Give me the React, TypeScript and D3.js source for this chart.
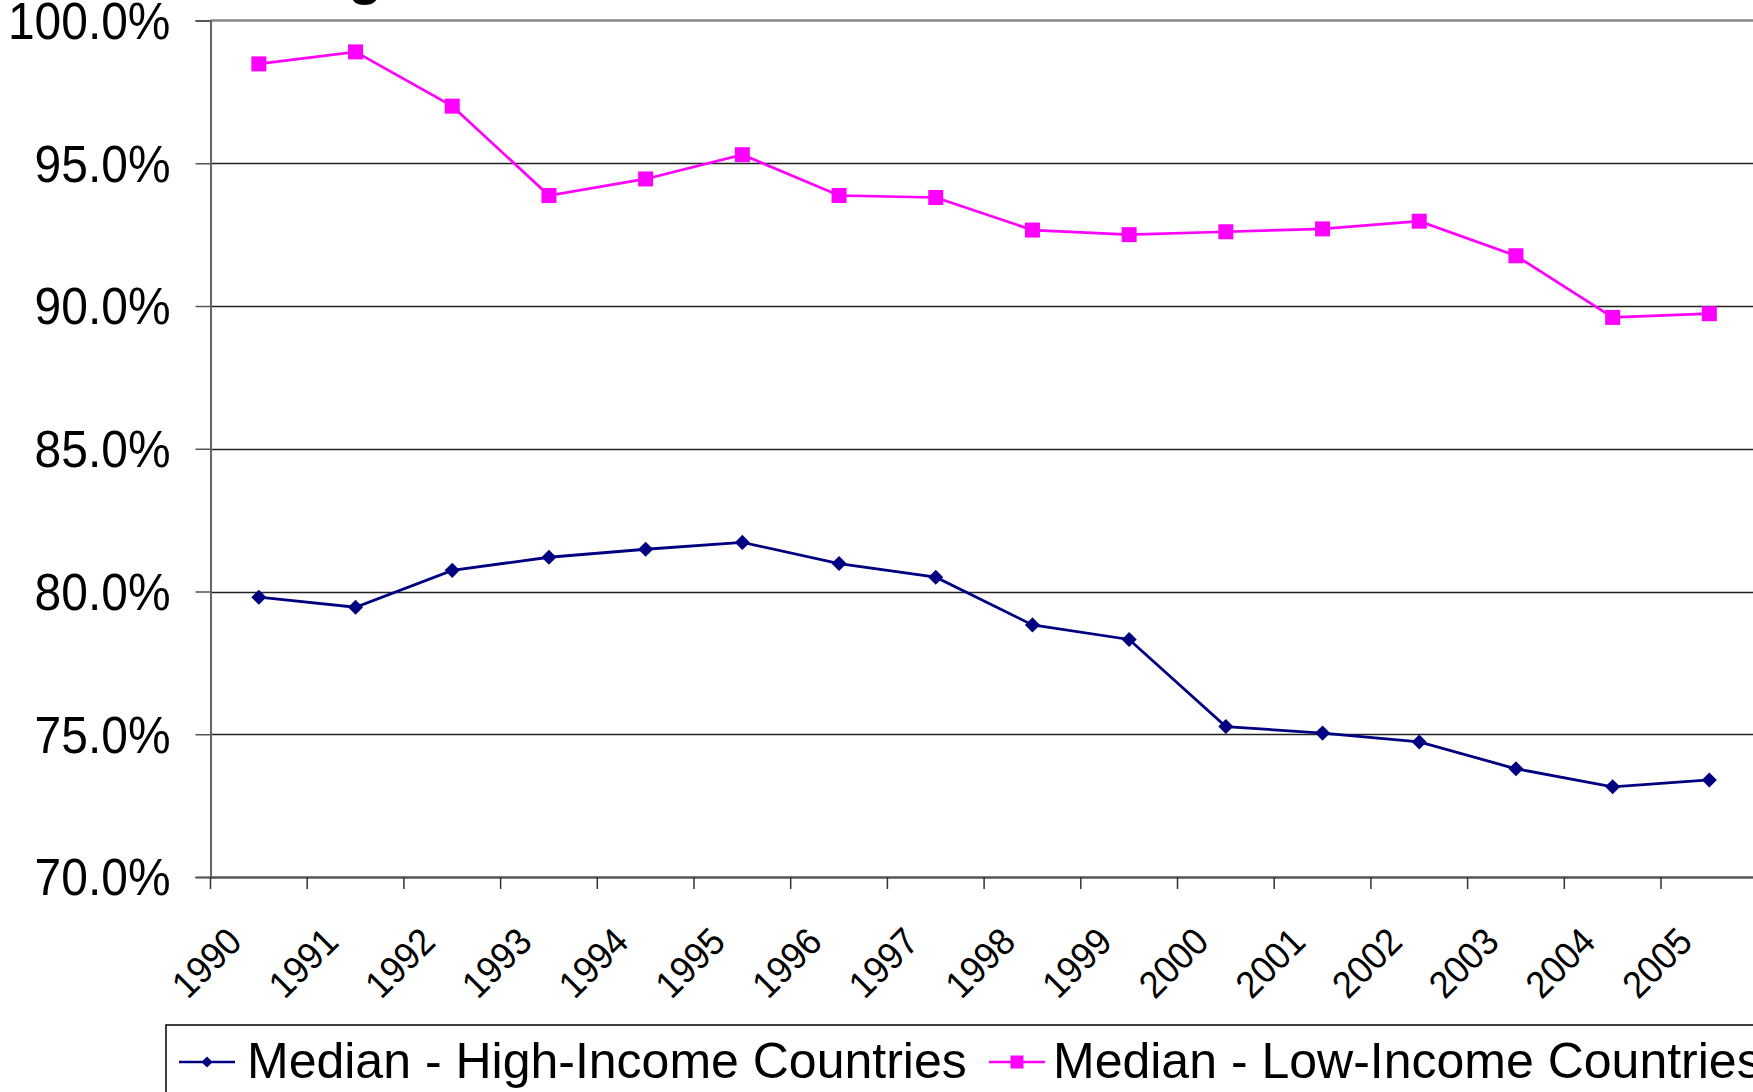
import { useEffect, useRef } from "react";
import * as d3 from "d3";

const years = [
  "1990", "1991", "1992", "1993", "1994", "1995", "1996", "1997",
  "1998", "1999", "2000", "2001", "2002", "2003", "2004", "2005",
];

const highIncome = [
  79.8, 79.45, 80.74, 81.2, 81.48, 81.72, 80.98, 80.5,
  78.83, 78.32, 75.27, 75.04, 74.73, 73.79, 73.16, 73.4,
];

const lowIncome = [
  98.48, 98.9, 97.0, 93.87, 94.45, 95.3, 93.87, 93.8,
  92.66, 92.5, 92.6, 92.7, 92.97, 91.76, 89.6, 89.73,
];

const yTicks = [70, 75, 80, 85, 90, 95, 100];

const seriesNames = ["Median - High-Income Countries", "Median - Low-Income Countries"];

const W = 1753;
const H = 1092;
const FONT = "'Liberation Sans', Arial, sans-serif";

export default function App() {
  const ref = useRef<SVGSVGElement>(null);

  useEffect(() => {
    if (!ref.current) return;
    const svg = d3.select(ref.current);
    svg.selectAll("*").remove();

    const left = 210.5;
    const top = 20.5;
    const bottom = 877;
    const band = 96.7;
    const right = left + band * years.length;

    const x = d3.scaleBand<string>().domain(years).range([left, right]);
    const y = d3.scaleLinear().domain([70, 100]).range([bottom, top]);

    // title fragment, cut off by the top edge as in the original
    svg
      .append("text")
      .attr("x", 365)
      .attr("y", -7)
      .attr("text-anchor", "middle")
      .attr("font-family", FONT)
      .attr("font-weight", "bold")
      .attr("font-size", "56px")
      .attr("fill", "#000")
      .text("g");

    // gridlines
    svg
      .append("g")
      .selectAll("line")
      .data(yTicks.filter((t) => t !== 70 && t !== 100))
      .join("line")
      .attr("x1", left)
      .attr("x2", right)
      .attr("y1", (d) => Math.round(y(d)) + 0.5)
      .attr("y2", (d) => Math.round(y(d)) + 0.5)
      .attr("stroke", "#222")
      .attr("stroke-width", 1.3);

    // plot top border
    svg
      .append("line")
      .attr("x1", left)
      .attr("x2", right)
      .attr("y1", top)
      .attr("y2", top)
      .attr("stroke", "#888")
      .attr("stroke-width", 2.5);

    // y axis
    const yAxis = svg
      .append("g")
      .attr("transform", `translate(${left},0)`)
      .call(d3.axisLeft(y).tickValues(yTicks).tickSize(15).tickFormat(() => ""));
    yAxis.select(".domain").attr("stroke", "#666").attr("stroke-width", 2);
    yAxis.selectAll(".tick line").attr("stroke", "#555").attr("stroke-width", 1.5);

    // y labels (slightly condensed, as in the original rendering)
    const sx = 0.94;
    svg
      .append("g")
      .selectAll("text")
      .data(yTicks)
      .join("text")
      .attr("transform", (d) => `translate(${left - 40},${y(d)}) scale(${sx},1)`)
      .attr("text-anchor", "end")
      .attr("dy", "0.36em")
      .attr("font-family", FONT)
      .attr("font-size", "51px")
      .attr("fill", "#000")
      .text((d) => `${d.toFixed(1)}%`);

    // x axis
    const xAxis = svg
      .append("g")
      .attr("transform", `translate(0,${bottom})`)
      .call(d3.axisBottom(x).tickSize(0).tickFormat(() => ""));
    xAxis.select(".domain").attr("stroke", "#555").attr("stroke-width", 2.5);

    svg
      .append("g")
      .selectAll("line")
      .data(years)
      .join("line")
      .attr("x1", (d) => x(d)!)
      .attr("x2", (d) => x(d)!)
      .attr("y1", bottom)
      .attr("y2", bottom + 12)
      .attr("stroke", "#333")
      .attr("stroke-width", 1.5);

    svg
      .append("g")
      .selectAll("text")
      .data(years)
      .join("text")
      .attr(
        "transform",
        (d) => `translate(${x(d)! + x.bandwidth() / 2 - 15},${944}) rotate(-45) scale(${sx},1)`
      )
      .attr("text-anchor", "end")
      .attr("font-family", FONT)
      .attr("font-size", "38px")
      .attr("fill", "#000")
      .text((d) => d);

    const cx = (i: number) => x(years[i])! + x.bandwidth() / 2;

    const line = d3
      .line<number>()
      .x((_, i) => cx(i))
      .y((d) => y(d));

    // high-income series
    svg
      .append("path")
      .datum(highIncome)
      .attr("d", line)
      .attr("fill", "none")
      .attr("stroke", "#000080")
      .attr("stroke-width", 2.8);

    const diamond = d3.symbol().type(d3.symbolDiamond2).size(145);
    svg
      .append("g")
      .selectAll("path")
      .data(highIncome)
      .join("path")
      .attr("transform", (d, i) => `translate(${cx(i)},${y(d)})`)
      .attr("d", diamond)
      .attr("fill", "#000080");

    // low-income series
    svg
      .append("path")
      .datum(lowIncome)
      .attr("d", line)
      .attr("fill", "none")
      .attr("stroke", "#FF00FF")
      .attr("stroke-width", 2.7);

    const sq = 15;
    svg
      .append("g")
      .selectAll("rect")
      .data(lowIncome)
      .join("rect")
      .attr("x", (d, i) => cx(i) - sq / 2)
      .attr("y", (d) => y(d) - sq / 2)
      .attr("width", sq)
      .attr("height", sq)
      .attr("fill", "#FF00FF");

    // legend
    const legend = svg.append("g");
    legend
      .append("rect")
      .attr("x", 166)
      .attr("y", 1025)
      .attr("width", 1700)
      .attr("height", 200)
      .attr("fill", "#fff")
      .attr("stroke", "#000")
      .attr("stroke-width", 1.5);

    const items = [
      { name: seriesNames[0], color: "#000080", shape: "diamond", x0: 179, tx: 247 },
      { name: seriesNames[1], color: "#FF00FF", shape: "square", x0: 989, tx: 1053 },
    ];
    const ly = 1062;
    items.forEach((it) => {
      legend
        .append("line")
        .attr("x1", it.x0)
        .attr("x2", it.x0 + 56)
        .attr("y1", ly)
        .attr("y2", ly)
        .attr("stroke", it.color)
        .attr("stroke-width", 2.5);
      if (it.shape === "diamond") {
        legend
          .append("path")
          .attr("transform", `translate(${it.x0 + 28},${ly})`)
          .attr("d", d3.symbol().type(d3.symbolDiamond2).size(80)())
          .attr("fill", it.color);
      } else {
        legend
          .append("rect")
          .attr("x", it.x0 + 28 - 6.5)
          .attr("y", ly - 6.5)
          .attr("width", 13)
          .attr("height", 13)
          .attr("fill", it.color);
      }
      legend
        .append("text")
        .attr("x", it.tx)
        .attr("y", 1078)
        .attr("font-family", FONT)
        .attr("font-size", "50px")
        .attr("fill", "#000")
        .text(it.name);
    });
  }, []);

  return (
    <svg
      ref={ref}
      width={W}
      height={H}
      style={{ position: "absolute", left: 0, top: 0, background: "#fff" }}
    />
  );
}
